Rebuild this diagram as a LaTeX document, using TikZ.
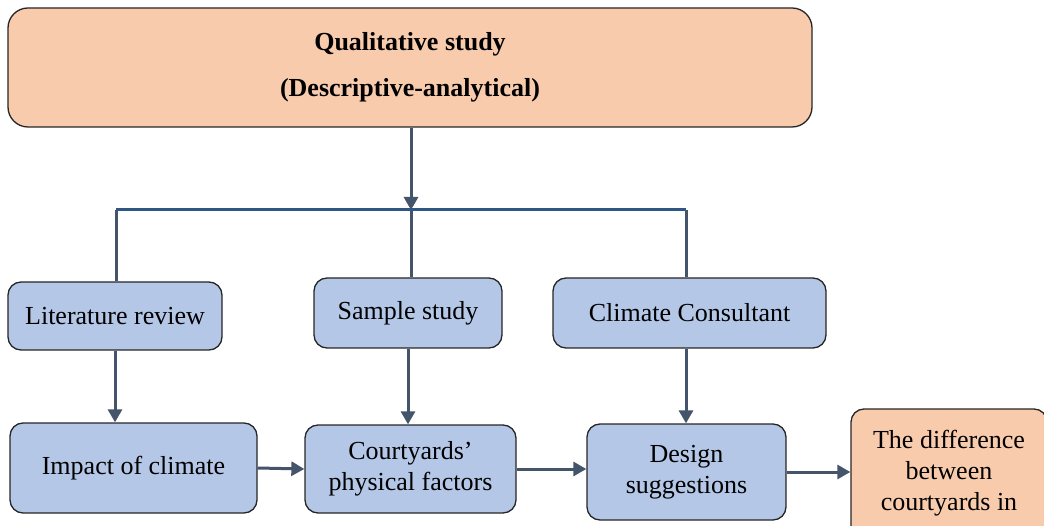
\documentclass[tikz,border=0pt]{standalone}
\usepackage{fontspec}
\setmainfont{Liberation Serif}
\usetikzlibrary{arrows.meta}
\definecolor{peach}{HTML}{F8CBAD}
\definecolor{lblue}{HTML}{B4C7E7}
\definecolor{arr}{HTML}{44546A}
\definecolor{busc}{HTML}{2E5783}
\begin{document}
\begin{tikzpicture}[x=1pt,y=-1pt,
  box/.style={draw=black!85, line width=1.3pt, rounded corners=13pt, fill=lblue, align=center,
    font=\fontsize{26}{31}\selectfont, inner sep=0pt},
  conn/.style={draw=arr, line width=3pt, -{Triangle[length=13pt,width=14pt]}},
  link/.style={draw=arr, line width=3pt}]
\useasboundingbox (0,0) rectangle (1044,526);
\clip (0,0) rectangle (1044,526);
\node[box, fill=peach, minimum width=804pt, minimum height=119pt, rounded corners=20pt] (top) at (410,67.5)
  {\bfseries Qualitative study\\[15pt]\bfseries (Descriptive-analytical)};
\node[box, minimum width=214pt, minimum height=68pt] (lit) at (115,316) {Literature review};
\node[box, minimum width=188pt, minimum height=70pt] (samp) at (408,313) {Sample study};
\node[box, minimum width=273pt, minimum height=70pt] (clim) at (689.5,313) {Climate Consultant};
\node[box, minimum width=247pt, minimum height=90pt] (imp) at (133.5,468) {Impact of climate};
\node[box, minimum width=211pt, minimum height=88pt] (court) at (410.5,469) {Courtyards’\\physical factors};
\node[box, minimum width=199pt, minimum height=96pt] (design) at (686.5,472) {Design\\suggestions};
\node[box, fill=peach, minimum width=196pt, minimum height=161pt] (diff) at (949,489.5) {};
\node[font=\fontsize{26}{31}\selectfont, align=center, inner sep=0pt] (difftext) at (949,473) {The difference\\between\\courtyards in};
\coordinate (bl) at (116,210);
\coordinate (bm) at (411,210);
\coordinate (br) at (686,210);
\draw[conn] (top.south -| bm) -- (bm);
\draw[link] (bl) -- (bl |- lit.north);
\draw[link] (bm) -- (bm |- samp.north);
\draw[link] (br) -- (br |- clim.north);
\draw[busc, line width=3pt] (bl) -- (br);
\draw[conn] (lit.south) -- (lit.south |- imp.north);
\draw[conn] (samp.south) -- (samp.south |- court.north);
\draw[conn] (br |- clim.south) -- (br |- design.north);
\draw[conn] (imp.east) -- (court.west);
\draw[conn] (court.east) -- (court.east -| design.west);
\draw[conn] (design.east) -- (design.east -| diff.west);
\end{tikzpicture}
\end{document}
